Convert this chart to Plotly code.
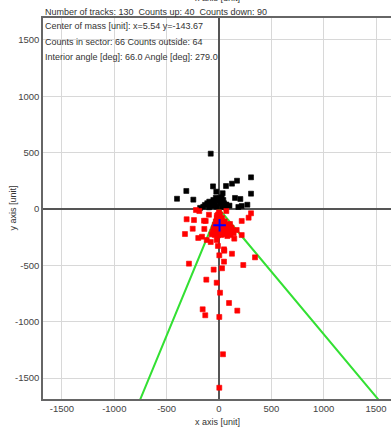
import numpy as np
import plotly.graph_objects as go

# --- data ---
up_x = [-79, 306, 172, 124, 67, -57, -312, -26, 306, -401, -245, 153, 204, 271, 185,
        -134, -112, -93, -70, -54, -38, -16, 3, 26, 41, 48, 10, 217, -150, -95,
        -60, -20, 30, 60, 35, 20, -30, 70, -180, 100]
up_y = [491, 281, 251, 225, 204, 201, 160, 154, 136, 91, 83, 98, 89, 38, 18,
        36, 51, 65, 56, 80, 51, 74, 95, 104, 80, 51, 51, 27, 20, 15,
        25, 20, 20, 15, 140, 60, 100, 40, 10, 30]

down_x = [3, 51, 124, 344, -287, 48, 232, 29, -51, -121, -22, 10, 96, -156, -131, 3, 175, 38, 3,
          -220, -188, -309, -239, -143, -127, -96, -251, -140, -325, -198, -162, -117, -79, -22,
          -10, 48, 146, 217, 283, 306, 70, 64, 98, 131, 169, 105, 41, 217,
          0, -10, 10, -20, 5, 30, -30, 0, 25, 55, -40, -15, 15, 45, 75, -50, -25, 5, 35, 90,
          120, -60, -30, 0, 30, 60, 100, 140, -70, -40, -10, 20, 50, 80, 110, -20, 15, 40, -5,
          60, -45, 85]
down_y = [-411, -370, -397, -429, -485, -467, -497, -526, -538, -627, -654, -743, -834, -890, -943, -958, -902, -1289, -1586,
          -9, -18, -91, -98, -104, -106, -51, -175, -177, -222, -257, -246, -275, -293, -275,
          -328, -358, -263, -106, -77, -38, -18, -180, -186, -195, -186, -133, -113, -231,
          -30, -50, -50, -80, -80, -80, -110, -110, -110, -110, -140, -140, -140, -140, -140, -170, -170, -170, -170, -160,
          -165, -200, -200, -200, -200, -200, -210, -215, -225, -230, -235, -230, -225, -240, -230, -60, -95, -125, -125,
          -160, -185, -190]

center_of_mass = (5.54, -143.67)
sector_angle = 279.0        # deg
interior_angle = 66.0       # deg
sector_length = 2500        # length of the sector edges
counts_in_sector = 66
counts_outside = 64

x_ticks = [-1500, -1000, -500, 0, 500, 1000, 1500]
y_ticks = [-1500, -1000, -500, 0, 500, 1000, 1500]
x_tick_text = ["-1500", "-1000", "-500", "0", "500", "1000", "1500"]
y_tick_text = ["-1500", "-1000", "-500", "0", "500", "1000", "1500"]

# --- figure ---
FONT = "Liberation Sans, Arial, sans-serif"
FS = 9
FS_TICK = 9.5
TXT = "#333333"
fig = go.Figure()

a1 = np.radians(sector_angle - interior_angle / 2)
a2 = np.radians(sector_angle + interior_angle / 2)
fig.add_trace(go.Scatter(
    x=[sector_length * np.cos(a1), 0, sector_length * np.cos(a2)],
    y=[sector_length * np.sin(a1), 0, sector_length * np.sin(a2)],
    mode="lines", line=dict(color="#33e033", width=2), hoverinfo="skip"))

fig.add_trace(go.Scatter(x=up_x, y=up_y, mode="markers",
                         marker=dict(symbol="square", size=5, color="#000000",
                                     line=dict(width=0.6, color="#000000"))))
fig.add_trace(go.Scatter(x=down_x, y=down_y, mode="markers",
                         marker=dict(symbol="square", size=5, color="#ff0000",
                                     line=dict(width=0.6, color="#ff0000"))))
fig.add_trace(go.Scatter(x=[center_of_mass[0]], y=[center_of_mass[1]], mode="markers",
                         marker=dict(symbol="cross-thin", size=9,
                                     line=dict(width=2, color="#0000ff"))))

axis_common = dict(
    showgrid=True, gridcolor="#d8d8d8", gridwidth=1,
    zeroline=True, zerolinecolor="#555555", zerolinewidth=1.5,
    showline=True, linecolor="#666666", linewidth=1.5,
    ticks="", automargin=False,
    tickfont=dict(family=FONT, size=FS_TICK, color="#444444"),
)

fig.update_layout(
    width=391, height=427,
    margin=dict(l=43, r=0, t=18, b=28),
    paper_bgcolor="white", plot_bgcolor="white",
    showlegend=False,
    font=dict(family=FONT, size=FS, color=TXT),
    xaxis=dict(range=[-1681, 1643], tickvals=x_ticks, ticktext=x_tick_text,
               mirror=True, **axis_common),
    yaxis=dict(range=[-1686, 1695], tickvals=y_ticks, ticktext=y_tick_text,
               **axis_common),
)

n_up = len(up_x)
n_down = len(down_x)

def note(text, x, y, xanchor="left", yanchor="middle", xshift=0, yshift=0, angle=0):
    fig.add_annotation(text=text, xref="paper", yref="paper", x=x, y=y,
                       xanchor=xanchor, yanchor=yanchor, xshift=xshift, yshift=yshift,
                       textangle=angle, showarrow=False,
                       font=dict(family=FONT, size=FS, color=TXT))

note(f"Number of tracks: {n_up + n_down}  Counts up: {n_up}  Counts down: {n_down}",
     0, 1, yshift=6)
note("x axis [unit]", 0.5, 1, xanchor="center", yshift=20)
note("x axis [unit]", 0.5, 0, xanchor="center", yshift=-23)
note("y axis [unit]", 0, 0.5, xanchor="center", xshift=-31, angle=-90)

inner = [
    f"Center of mass [unit]: x={center_of_mass[0]:.2f} y={center_of_mass[1]:.2f}",
    f"Counts in sector: {counts_in_sector} Counts outside: {counts_outside}",
    f"Interior angle [deg]: {interior_angle:.1f} Angle [deg]: {sector_angle:.1f}",
]
for i, t in enumerate(inner):
    note(t, 0, 1, yshift=-8 - 15.5 * i)

fig.write_html("out.html",
               config={"displayModeBar": False},
               post_script="document.body.style.margin='0';document.body.style.overflow='hidden';")
